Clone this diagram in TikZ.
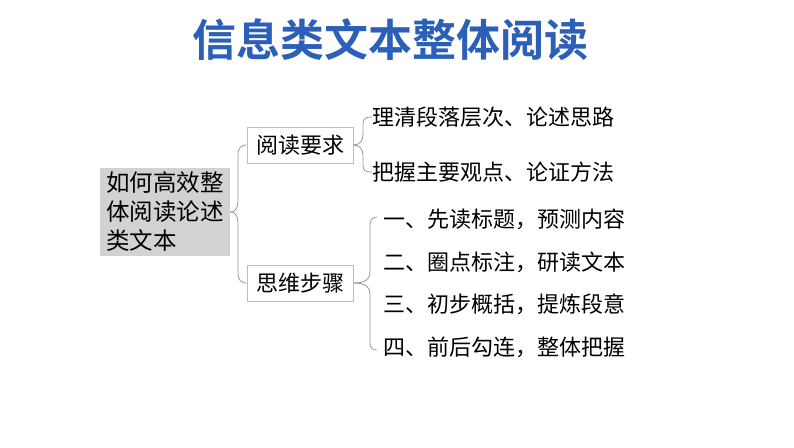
\documentclass[tikz,border=0pt]{standalone}
\usepackage{fontspec}
\newfontfamily\cjk{Noto Sans CJK SC}
\newfontfamily\cjkb{Noto Sans CJK SC Bold}
\definecolor{tblue}{HTML}{2B5FB8}
\begin{document}
\begin{tikzpicture}[x=1pt,y=-1pt,
  txt/.style={font=\cjk\fontsize{22}{26}\selectfont,anchor=west,inner sep=0},
  box/.style={draw=cyan!30!gray!60,line width=0.7pt,font=\cjk\fontsize{22}{26}\selectfont,inner sep=3pt,minimum width=106pt,minimum height=36pt},
  br/.style={draw=gray!80,line width=0.8pt}]
\useasboundingbox (0,0) rectangle (794,447);
\node[font=\cjkb\fontsize{44}{50}\selectfont,text=tblue] (title) at (390,40) {信息类文本整体阅读};
\node[fill=gray!35,minimum width=130pt,minimum height=88pt,inner sep=2pt,align=left,font=\cjk\fontsize{23.5}{29}\selectfont] (root) at (165,212) {如何高效整\\体阅读论述\\类文本};
\node[box] (a) at (300,145) {阅读要求};
\node[box] (b) at (300,283) {思维步骤};
\coordinate (r1) at (230,212);
\draw[br] (r1) .. controls (238,212) and (238,205) .. (238,195) -- (238,155) .. controls (238,147) and (242,145) .. (a.west);
\draw[br] (r1) .. controls (238,212) and (238,219) .. (238,229) -- (238,273) .. controls (238,281) and (242,283) .. (b.west);
\node[txt] (a1) at (372,117) {理清段落层次、论述思路};
\node[txt] (a2) at (372,172) {把握主要观点、论证方法};
\draw[br] (a.east) .. controls (360,145) and (363,141) .. (363,134) -- (363,124) .. controls (363,118) and (366,117) .. (a1.west);
\draw[br] (a.east) .. controls (360,145) and (363,149) .. (363,156) -- (363,165) .. controls (363,171) and (366,172) .. (a2.west);
\node[txt] (b1) at (383,219) {一、先读标题，预测内容};
\node[txt] (b2) at (383,262) {二、圈点标注，研读文本};
\node[txt] (b3) at (383,304) {三、初步概括，提炼段意};
\node[txt] (b4) at (383,347) {四、前后勾连，整体把握};
\draw[br] (b.east) .. controls (366,283) and (370,279) .. (370,272) -- (370,226) .. controls (370,219) and (373,217) .. (377,217);
\draw[br] (b.east) .. controls (366,283) and (370,287) .. (370,294) -- (370,342) .. controls (370,349) and (373,350) .. (377,350);
\end{tikzpicture}
\end{document}
